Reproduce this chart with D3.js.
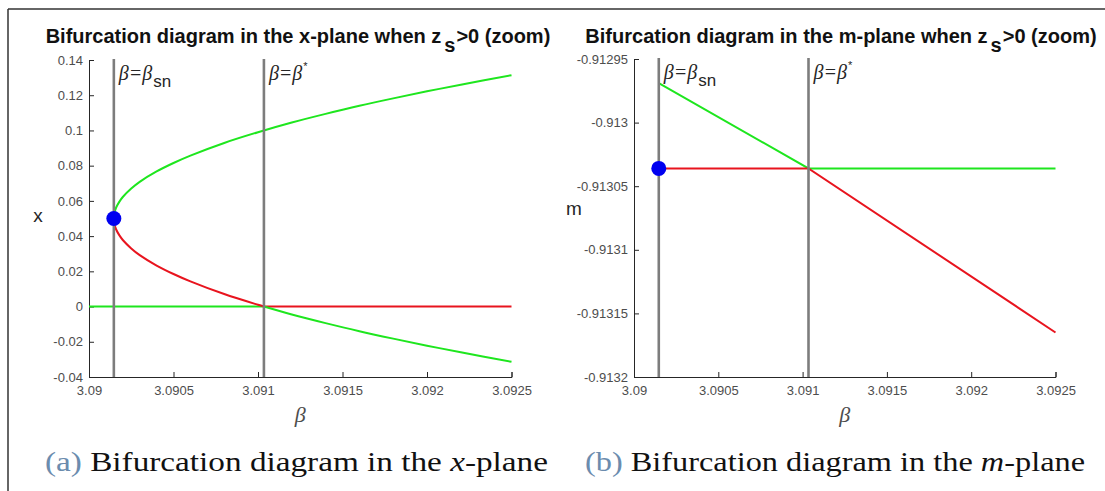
<!DOCTYPE html>
<html>
<head>
<meta charset="utf-8">
<script src="https://cdn.jsdelivr.net/npm/d3@7"></script>
<style>
  html, body { margin: 0; padding: 0; background: #fff; }
  svg { display: block; }
</style>
</head>
<body>
<svg id="fig" width="1105" height="491"></svg>
<script>
// ---- data -------------------------------------------------------------
const betaTicks = [3.09, 3.0905, 3.091, 3.0915, 3.092, 3.0925];
const xTicks = [-0.04, -0.02, 0, 0.02, 0.04, 0.06, 0.08, 0.1, 0.12, 0.14];
const mTicks = [-0.9132, -0.91315, -0.9131, -0.91305, -0.913, -0.91295];

const betaSN = 3.090147;     // saddle-node
const betaStar = 3.091035;   // transcritical crossing

// x-plane: upper stable branch (from the saddle-node to the right edge)
const upperBeta = [3.090147, 3.09015, 3.09016, 3.09018, 3.0902, 3.09025, 3.0903, 3.0904, 3.0905,
                   3.0906, 3.0908, 3.091, 3.0912, 3.0914, 3.0916, 3.0918, 3.092, 3.0922, 3.0925];
const upperX    = [0.05, 0.0529, 0.0561, 0.0596, 0.0622, 0.0670, 0.0708, 0.0767, 0.0815,
                   0.0857, 0.0929, 0.0990, 0.1045, 0.1094, 0.1140, 0.1182, 0.1222, 0.1260, 0.1314];
// x-plane: unstable branch from the saddle-node down to the crossing
const lowerBeta = [3.090147, 3.09015, 3.09016, 3.09018, 3.0902, 3.09025, 3.0903, 3.0904, 3.0905,
                   3.0906, 3.0908, 3.091, 3.091035];
const lowerX    = [0.05, 0.0471, 0.0439, 0.0404, 0.0378, 0.0330, 0.0292, 0.0233, 0.0185,
                   0.0143, 0.0071, 0.0010, 0.0];
// x-plane: branch continuing below zero after the crossing (stable)
const tailBeta = [3.091035, 3.0912, 3.0914, 3.0916, 3.0918, 3.092, 3.0922, 3.0925];
const tailX    = [0.0, -0.0045, -0.0094, -0.0140, -0.0182, -0.0222, -0.0260, -0.0314];
// x-plane: trivial branch x = 0
const zeroStableBeta = [3.09, 3.091035];
const zeroStableX = [0, 0];
const zeroUnstableBeta = [3.091035, 3.0925];
const zeroUnstableX = [0, 0];
const snPointX = 0.05;

// m-plane
const mGreenBeta = [3.090147, 3.091035, 3.0925];
const mGreenM    = [-0.912969, -0.913036, -0.913036];
const mRedBeta   = [3.090147, 3.091035, 3.0925];
const mRedM      = [-0.913036, -0.913036, -0.913165];
const snPointM = -0.913036;

// ---- drawing -----------------------------------------------------------
const svg = d3.select("#fig");
const GREEN = "#1ee61e", RED = "#e8141e", BLUE = "#0000f0", GREY = "#7d7d7d";
const SANS = "Liberation Sans, Arial, sans-serif";
const SERIF = "Liberation Serif, Times New Roman, serif";
const plain = digits => d => (+d.toFixed(digits)).toString();   // hyphen minus, no trailing zeros

// page frame
svg.append("line").attr("x1", 8).attr("y1", 9).attr("x2", 1105).attr("y2", 9)
  .attr("stroke", "#333").attr("stroke-width", 1.5);
svg.append("line").attr("x1", 8).attr("y1", 9).attr("x2", 8).attr("y2", 491)
  .attr("stroke", "#333").attr("stroke-width", 1.5);

function panel(opt) {
  const g = svg.append("g");
  const xs = d3.scaleLinear().domain([3.09, 3.0925]).range([opt.x0, opt.x1]);
  const ys = d3.scaleLinear().domain(opt.yDomain).range([opt.yBottom, opt.yTop]);

  // axes (inward ticks, left + bottom only)
  const xa = g.append("g").attr("transform", `translate(0,${opt.yBottom})`)
    .call(d3.axisBottom(xs).tickValues(betaTicks).tickSize(-5).tickPadding(9)
      .tickFormat(plain(4)));
  const ya = g.append("g").attr("transform", `translate(${opt.x0},0)`)
    .call(d3.axisLeft(ys).tickValues(opt.yTicks).tickSize(-5).tickPadding(6)
      .tickFormat(plain(opt.yDigits)));
  [xa, ya].forEach(a => {
    a.select(".domain").attr("stroke", "#262626").attr("stroke-width", 1);
    a.selectAll(".tick line").attr("stroke", "#262626");
    a.selectAll(".tick text").attr("fill", "#4d4d4d")
      .style("font-family", SANS).style("font-size", "13px");
  });

  const line = d3.line().x(d => xs(d[0])).y(d => ys(d[1]));
  const smooth = d3.line().x(d => xs(d[0])).y(d => ys(d[1])).curve(d3.curveCatmullRom.alpha(0.5));

  opt.series.forEach(s => {
    const pts = s.b.map((b, i) => [b, s.v[i]]);
    g.append("path").attr("d", (s.smooth ? smooth : line)(pts))
      .attr("fill", "none").attr("stroke", s.color).attr("stroke-width", 2);
  });

  // reference lines at beta_sn and beta*
  [betaSN, betaStar].forEach(b => {
    g.append("line").attr("x1", xs(b)).attr("x2", xs(b))
      .attr("y1", opt.yTop - 1).attr("y2", opt.yBottom)
      .attr("stroke", GREY).attr("stroke-width", 2.6);
  });

  // saddle-node point
  g.append("circle").attr("cx", xs(betaSN)).attr("cy", ys(opt.snValue)).attr("r", 7.5)
    .attr("fill", BLUE);

  // line annotations
  const ann = (b, sub, sup) => {
    const t = g.append("text").attr("x", xs(b) + 5).attr("y", opt.yTop + 20)
      .attr("fill", "#262626").style("font-size", "20px");
    t.append("tspan").text("β=β").style("font-family", SERIF).style("font-style", "italic");
    if (sub) t.append("tspan").text(sub).attr("dy", 7).attr("dx", 1)
      .style("font-family", SANS).style("font-size", "17px");
    if (sup) t.append("tspan").text(sup).attr("dy", -10).attr("dx", 1)
      .style("font-family", SANS).style("font-size", "11px");
  };
  ann(betaSN, "sn", null);
  ann(betaStar, null, "*");

  // title
  const cx = (opt.x0 + opt.x1) / 2;
  const tt = g.append("text").attr("x", opt.titleX).attr("y", 43).attr("text-anchor", "middle")
    .attr("fill", "#111").style("font-family", SANS)
    .style("font-weight", "bold").style("font-size", "20px");
  tt.append("tspan").text(opt.title + " z");
  tt.append("tspan").text("s").attr("dy", 9).attr("dx", 3);
  tt.append("tspan").text(">0 (zoom)").attr("dy", -9).attr("dx", 1);

  // axis labels
  g.append("text").attr("x", cx).attr("y", 422).attr("text-anchor", "middle")
    .attr("fill", "#4d4d4d").style("font-family", SERIF)
    .style("font-style", "italic").style("font-size", "22px").text("β");
  g.append("text").attr("x", opt.yLabelX).attr("y", opt.yLabelY).attr("text-anchor", "middle")
    .attr("fill", "#262626").style("font-family", SANS)
    .style("font-size", "19px").text(opt.yLabel);

  // caption
  const cap = g.append("text").attr("x", opt.capX).attr("y", 471)
    .attr("textLength", opt.capW).attr("lengthAdjust", "spacingAndGlyphs")
    .style("font-family", SERIF).style("font-size", "28px").attr("fill", "#111");
  cap.append("tspan").text(opt.capTag).attr("fill", "#6b8cae");
  cap.append("tspan").text(" Bifurcation diagram in the ");
  cap.append("tspan").text(opt.capVar).style("font-style", "italic");
  cap.append("tspan").text("-plane");
}

panel({
  x0: 89, x1: 511.5, yTop: 60, yBottom: 377,
  yDomain: [-0.04, 0.14], yTicks: xTicks, yDigits: 2,
  snValue: snPointX,
  series: [
    { b: zeroStableBeta, v: zeroStableX, color: GREEN },
    { b: zeroUnstableBeta, v: zeroUnstableX, color: RED },
    { b: upperBeta, v: upperX, color: GREEN, smooth: true },
    { b: tailBeta, v: tailX, color: GREEN, smooth: true },
    { b: lowerBeta, v: lowerX, color: RED, smooth: true }
  ],
  title: "Bifurcation diagram in the x-plane when", titleX: 298,
  yLabel: "x", yLabelX: 38, yLabelY: 222,
  capX: 45, capW: 503, capTag: "(a)", capVar: "x"
});

panel({
  x0: 634, x1: 1055.5, yTop: 59, yBottom: 377,
  yDomain: [-0.9132, -0.91295], yTicks: mTicks, yDigits: 5,
  snValue: snPointM,
  series: [
    { b: mGreenBeta, v: mGreenM, color: GREEN },
    { b: mRedBeta, v: mRedM, color: RED }
  ],
  title: "Bifurcation diagram in the m-plane when", titleX: 841,
  yLabel: "m", yLabelX: 574, yLabelY: 215,
  capX: 585, capW: 500, capTag: "(b)", capVar: "m"
});
</script>
</body>
</html>
